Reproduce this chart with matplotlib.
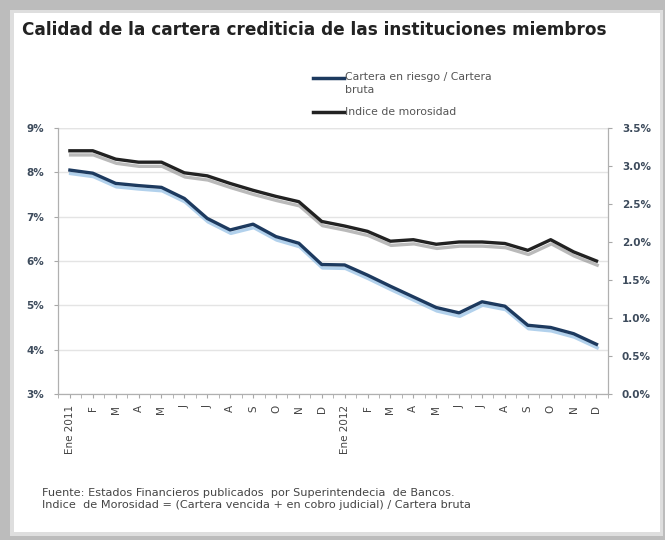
import matplotlib.pyplot as plt
import matplotlib.patheffects as pe
from matplotlib.patches import Rectangle
from matplotlib.lines import Line2D
import numpy as np

# Meses (Ene 2011 - Dic 2012)
meses = ['Ene 2011', 'F', 'M', 'A', 'M', 'J', 'J', 'A', 'S', 'O', 'N', 'D',
         'Ene 2012', 'F', 'M', 'A', 'M', 'J', 'J', 'A', 'S', 'O', 'N', 'D']

# Cartera en riesgo / Cartera bruta (eje izquierdo, %)
riesgo = [8.05, 7.98, 7.75, 7.70, 7.66, 7.41, 6.96, 6.70, 6.83, 6.55, 6.40, 5.92,
          5.91, 5.68, 5.43, 5.19, 4.95, 4.83, 5.08, 4.98, 4.55, 4.50, 4.36, 4.12]

# Indice de morosidad (eje derecho, %)
morosidad = [3.20, 3.20, 3.09, 3.05, 3.05, 2.91, 2.87, 2.77, 2.68, 2.60, 2.53, 2.27,
             2.21, 2.14, 2.01, 2.03, 1.97, 2.00, 2.00, 1.98, 1.89, 2.03, 1.87, 1.75]

ticks_izq = [3, 4, 5, 6, 7, 8, 9]
ticks_der = [0.0, 0.5, 1.0, 1.5, 2.0, 2.5, 3.0, 3.5]

azul = '#1d3a5f'
negro = '#222222'

fig = plt.figure(figsize=(6.65, 5.4), dpi=100, facecolor='#bcbcbc')
# panel blanco con sombra
fig.patches.append(Rectangle((10 / 665, 4 / 540), 653 / 665, 526 / 540,
                             transform=fig.transFigure, facecolor='#dedede',
                             edgecolor='none', zorder=-2))
fig.patches.append(Rectangle((14 / 665, 8 / 540), 646 / 665, 519 / 540,
                             transform=fig.transFigure, facecolor='white',
                             edgecolor='none', zorder=-1))

ax = fig.add_axes([0.0872, 0.2704, 0.827, 0.4926])
ax2 = ax.twinx()

x = np.arange(len(meses))

ax.plot(x, riesgo, color=azul, lw=2.4, solid_joinstyle='round',
        path_effects=[pe.SimpleLineShadow(offset=(0.5, -2.5), shadow_color='#7fb3e0', alpha=0.6),
                      pe.Normal()], zorder=3)
ax2.plot(x, morosidad, color=negro, lw=2.4, solid_joinstyle='round',
         path_effects=[pe.SimpleLineShadow(offset=(0.5, -3), shadow_color='#8c8c8c', alpha=0.6),
                       pe.Normal()], zorder=3)

ax.set_ylim(3, 9)
ax2.set_ylim(0, 3.5)
ax.set_xlim(-0.52, 23.45)

ax.set_yticks(ticks_izq)
ax.set_yticklabels([f'{t}%' for t in ticks_izq])
ax2.set_yticks(ticks_der)
ax2.set_yticklabels([f'{t:.1f}%' for t in ticks_der])

ax.set_xticks(x)
ax.set_xticklabels(meses, rotation=90, fontsize=7.5, color='#444444')
ax.set_xticks(np.arange(-0.5, 24, 0.5), minor=True)
ax.tick_params(axis='x', which='both', length=3, color='#a8a8a8', pad=5)

for a in (ax, ax2):
    a.tick_params(axis='y', labelsize=7.5, labelcolor='#3d4b5c', length=3,
                  color='#a8a8a8', pad=7)
    for s in a.spines.values():
        s.set_color('#b0b0b0')
    a.spines['top'].set_visible(False)

for t in ax.get_yticklabels() + ax2.get_yticklabels():
    t.set_fontweight('bold')

ax.grid(axis='y', color='#e4e4e4', lw=1)
ax.axhline(9, color='#e4e4e4', lw=1)
ax.set_axisbelow(True)

fig.text(22 / 665, 1 - 30 / 540, 'Calidad de la cartera crediticia de las instituciones miembros',
         fontsize=12.2, fontweight='bold', color='#222222', va='center')

# leyenda
fig.add_artist(Line2D([313 / 665, 344 / 665], [1 - 78 / 540] * 2, color=azul, lw=2.5,
                      transform=fig.transFigure))
fig.add_artist(Line2D([313 / 665, 344 / 665], [1 - 112 / 540] * 2, color=negro, lw=2.5,
                      transform=fig.transFigure))
fig.text(345 / 665, 1 - 72 / 540, 'Cartera en riesgo / Cartera\nbruta', fontsize=7.8,
         color='#555555', va='top', ha='left', linespacing=1.35)
fig.text(345 / 665, 1 - 112 / 540, 'Indice de morosidad', fontsize=7.8,
         color='#555555', va='center', ha='left')

fig.text(42 / 665, 1 - 499 / 540,
         'Fuente: Estados Financieros publicados  por Superintendecia  de Bancos.\n'
         'Indice  de Morosidad = (Cartera vencida + en cobro judicial) / Cartera bruta',
         fontsize=8.1, color='#444444', va='center', linespacing=1.3)

fig.savefig('out.png', dpi=100, facecolor=fig.get_facecolor())
